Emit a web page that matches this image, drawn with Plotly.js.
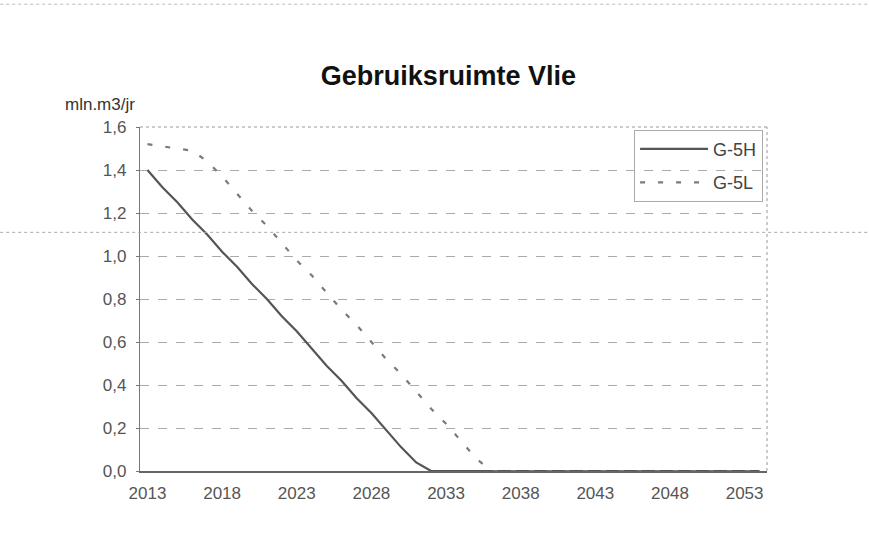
<!DOCTYPE html>
<html>
<head>
<meta charset="utf-8">
<script src="https://cdn.plot.ly/plotly-3.0.1.min.js"></script>
<style>
html,body{margin:0;padding:0;background:#fff;}
#chart{width:869px;height:544px;}
</style>
</head>
<body>
<div id="chart"></div>
<script>
var years = [2013,2014,2015,2016,2017,2018,2019,2020,2021,2022,2023,2024,2025,2026,2027,2028,2029,2030,2031,2032,2033,2034,2035,2036,2037,2038,2039,2040,2041,2042,2043,2044,2045,2046,2047,2048,2049,2050,2051,2052,2053,2054];
var g5h = [1.40,1.32,1.25,1.17,1.10,1.02,0.95,0.87,0.80,0.72,0.65,0.57,0.49,0.42,0.34,0.27,0.19,0.11,0.04,0,0,0,0,0,0,0,0,0,0,0,0,0,0,0,0,0,0,0,0,0,0,0];
var g5l = [1.52,1.51,1.50,1.49,1.44,1.37,1.29,1.21,1.14,1.06,0.98,0.91,0.83,0.75,0.68,0.60,0.52,0.45,0.37,0.29,0.22,0.14,0.06,0,0,0,0,0,0,0,0,0,0,0,0,0,0,0,0,0,0,0];
var xTickVals = [2013,2018,2023,2028,2033,2038,2043,2048,2053];
var xTickText = ['2013','2018','2023','2028','2033','2038','2043','2048','2053'];
var yTickVals = [0,0.2,0.4,0.6,0.8,1.0,1.2,1.4,1.6];
var yTickText = ['0,0','0,2','0,4','0,6','0,8','1,0','1,2','1,4','1,6'];
var seriesNames = ['G-5H','G-5L'];

var font = 'Liberation Sans, Arial, sans-serif';

var traces = [
  {x: years, y: g5h, name: seriesNames[0], type: 'scatter', mode: 'lines', legendgroup: 'a',
   line: {color: '#555555', width: 2.2}},
  {x: years, y: g5l, name: seriesNames[1], type: 'scatter', mode: 'lines', legendgroup: 'b',
   line: {color: '#7a7a7a', width: 2.2, dash: '5px,13px'}}
];

var layout = {
  width: 869, height: 544,
  margin: {l: 140, r: 102, t: 127, b: 73},
  paper_bgcolor: '#ffffff', plot_bgcolor: '#ffffff',
  font: {family: font, color: '#444', size: 17},
  showlegend: true,
  title: {text: 'Gebruiksruimte Vlie', font: {family: font, size: 27, color: '#111', weight: 'bold'},
          x: 0.516, xanchor: 'center', y: 0.862, yanchor: 'middle'},
  xaxis: {range: [2012.5, 2054.5], tickvals: xTickVals, ticktext: xTickText,
          showgrid: false, zeroline: false, showline: true, linecolor: '#666', linewidth: 1.5,
          ticks: '', tickfont: {size: 17, color: '#555'}, ticklabelstandoff: 6},
  yaxis: {range: [0, 1.6], tickvals: yTickVals, ticktext: yTickText,
          showgrid: true, gridcolor: '#aaaaaa', griddash: 'dash', gridwidth: 1,
          zeroline: false, showline: true, linecolor: '#777', linewidth: 1.2,
          ticks: 'outside', ticklen: 3, tickcolor: '#777', ticklabelstandoff: 6,
          tickfont: {size: 17, color: '#555'}},
  legend: {x: 0.788, y: 0.992, xanchor: 'left', yanchor: 'top',
           bgcolor: 'rgba(255,255,255,0)', bordercolor: '#aaa', borderwidth: 1,
           font: {size: 18, color: '#444'}, itemwidth: 68, tracegroupgap: 7},
  annotations: [
    {text: 'mln.m3/jr', xref: 'paper', yref: 'paper', x: -0.064, y: 1.065,
     xanchor: 'center', yanchor: 'middle', showarrow: false,
     font: {size: 17, color: '#333', family: font}}
  ],
  shapes: [
    {type: 'line', xref: 'paper', yref: 'paper', x0: 0, x1: 1, y0: 1, y1: 1,
     line: {color: '#999', width: 1, dash: 'dot'}},
    {type: 'line', xref: 'paper', yref: 'paper', x0: 1, x1: 1, y0: 0, y1: 1,
     line: {color: '#999', width: 1, dash: 'dot'}},
    {type: 'line', xref: 'paper', yref: 'y', x0: -0.223, x1: 1.163, y0: 1.11, y1: 1.11,
     line: {color: '#aaa', width: 1, dash: 'dot'}},
    {type: 'line', xref: 'paper', yref: 'paper', x0: -0.223, x1: 1.163, y0: 1.357, y1: 1.357,
     line: {color: '#bbb', width: 1, dash: 'dot'}}
  ]
};

Plotly.newPlot('chart', traces, layout, {displayModeBar: false, staticPlot: true});
</script>
</body>
</html>
